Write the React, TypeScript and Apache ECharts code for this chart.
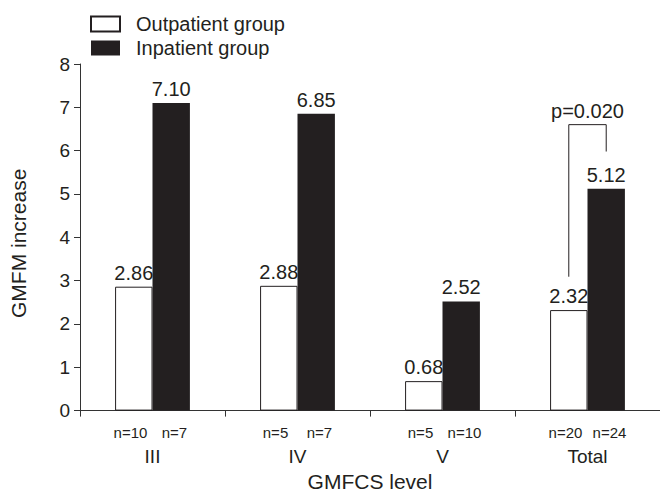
import React, { useEffect, useRef } from "react";
import * as echarts from "echarts";

const categories = ["III", "IV", "V", "Total"];
const outpatient = [2.86, 2.88, 0.68, 2.32];
const inpatient = [7.1, 6.85, 2.52, 5.12];
const nOutpatient = ["n=10", "n=5", "n=5", "n=20"];
const nInpatient = ["n=7", "n=7", "n=10", "n=24"];
const yTicks = { min: 0, max: 8, interval: 1 };
// [category index, bracket top, left leg bottom, right leg bottom]
const bracket = [[3, 6.6, 3.09, 5.98]];
const pText = "p=0.020";

const INK = "#231f20";
const FONT = "Liberation Sans, Arial, sans-serif";
const BAR_RATIO = 0.258;

export default function App() {
  const ref = useRef<HTMLDivElement>(null);
  useEffect(() => {
    document.body.style.margin = "0";
    if (!ref.current) return;
    const chart = echarts.init(ref.current, null, { renderer: "svg" });
    chart.setOption({
      animation: false,
      backgroundColor: "#fff",
      textStyle: { fontFamily: FONT, color: INK },
      legend: {
        orient: "vertical",
        left: 85,
        top: 9,
        itemWidth: 29,
        itemHeight: 15,
        itemGap: 4,
        icon: "rect",
        data: ["Outpatient group", "Inpatient group"],
        textStyle: { fontSize: 20, color: INK, fontFamily: FONT, padding: [0, 0, 0, 11] },
      },
      grid: { left: 79, top: 64, width: 582, height: 352 },
      xAxis: {
        type: "category",
        data: categories,
        name: "GMFCS level",
        nameLocation: "middle",
        nameGap: 59,
        nameTextStyle: { fontSize: 21, color: INK, fontFamily: FONT },
        axisLine: { lineStyle: { color: "#333", width: 1 } },
        axisTick: { show: true, length: 6, lineStyle: { color: "#333" } },
        axisLabel: {
          margin: 12,
          interval: 0,
          formatter: (value: string, idx: number) =>
            `{n|${nOutpatient[idx]}}{n|${nInpatient[idx]}}\n{c|${value}}`,
          rich: {
            n: { fontSize: 15, width: 44, align: "center", lineHeight: 20, color: INK, fontFamily: FONT },
            c: { fontSize: 19, width: 88, align: "center", lineHeight: 28, color: INK, fontFamily: FONT },
          },
        },
      },
      yAxis: {
        type: "value",
        min: yTicks.min,
        max: yTicks.max,
        interval: yTicks.interval,
        name: "GMFM increase",
        nameLocation: "middle",
        nameRotate: 90,
        nameGap: 51,
        nameTextStyle: { fontSize: 21, color: INK, fontFamily: FONT, padding: [0, 12, 0, 0] },
        axisLine: { show: true, lineStyle: { color: "#333", width: 1 } },
        axisTick: { show: true, length: 6, lineStyle: { color: "#333" } },
        axisLabel: { fontSize: 19, color: INK, margin: 10, fontFamily: FONT },
        splitLine: { show: false },
      },
      series: [
        {
          name: "Outpatient group",
          type: "bar",
          data: outpatient,
          barWidth: BAR_RATIO * 100 + "%",
          barGap: "0%",
          itemStyle: { color: "#fff", borderColor: INK, borderWidth: 1 },
          label: {
            show: true,
            position: "top",
            distance: 4,
            fontSize: 20,
            color: INK,
            fontFamily: FONT,
            formatter: (p: any) => Number(p.value).toFixed(2),
          },
        },
        {
          name: "Inpatient group",
          type: "bar",
          data: inpatient,
          barWidth: BAR_RATIO * 100 + "%",
          barGap: "0%",
          itemStyle: { color: INK },
          label: {
            show: true,
            position: "top",
            distance: 4,
            fontSize: 20,
            color: INK,
            fontFamily: FONT,
            formatter: (p: any) => Number(p.value).toFixed(2),
          },
        },
        {
          type: "custom",
          silent: true,
          clip: false,
          encode: { x: 0, y: 1 },
          data: bracket,
          renderItem: (params: any, api: any) => {
            const idx = api.value(0);
            const top = api.coord([idx, api.value(1)]);
            const lb = api.coord([idx, api.value(2)]);
            const rb = api.coord([idx, api.value(3)]);
            const bw = api.size([1, 0])[0] * BAR_RATIO;
            const xl = top[0] - bw / 2;
            const xr = top[0] + bw / 2;
            return {
              type: "group",
              children: [
                {
                  type: "polyline",
                  shape: { points: [[xl, lb[1]], [xl, top[1]], [xr, top[1]], [xr, rb[1]]] },
                  style: { stroke: INK, fill: null, lineWidth: 1 },
                },
                {
                  type: "text",
                  style: {
                    text: pText,
                    x: top[0],
                    y: top[1] - 4,
                    textAlign: "center",
                    textVerticalAlign: "bottom",
                    font: `20px ${FONT}`,
                    fill: INK,
                  },
                },
              ],
            };
          },
        },
      ],
    });
    return () => chart.dispose();
  }, []);
  return <div ref={ref} style={{ width: 660, height: 497 }} />;
}
